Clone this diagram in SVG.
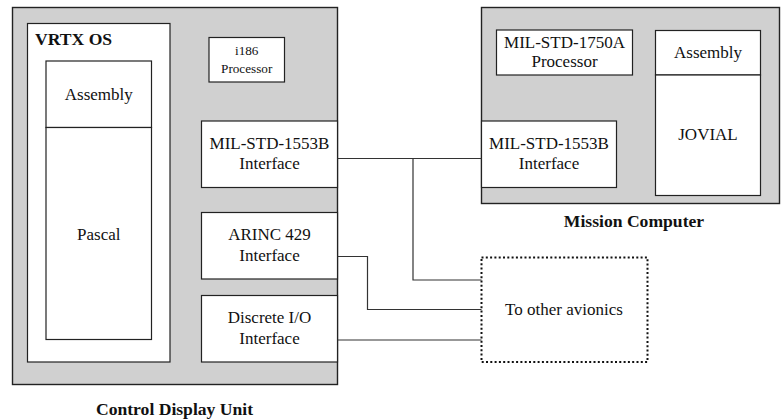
<svg xmlns="http://www.w3.org/2000/svg" width="781" height="419" viewBox="0 0 781 419">
<style>
.unit{fill:#d0d0d0;stroke:#222;stroke-width:1.4}
.box{fill:#fff;stroke:#222;stroke-width:1.2}
.t{font-family:"Liberation Serif","Times New Roman",serif;font-size:17px;fill:#111;text-anchor:middle}
.s{font-size:13.2px}
.b{font-weight:bold;font-size:17.6px}
.w{stroke:#333;stroke-width:1.2;fill:none}
</style>
<rect width="781" height="419" fill="#fff"/>
<g id="cdu">
<rect class="unit" x="12.5" y="7.5" width="325" height="377"/>
<text class="t b" x="174.5" y="415">Control Display Unit</text>
</g>
<g id="vrtx">
<rect class="box" x="27.5" y="23.5" width="142.5" height="338.5"/>
<text class="t b" x="35" y="45" style="text-anchor:start">VRTX OS</text>
</g>
<g id="cdu-assembly">
<rect class="box" x="46" y="61" width="105.5" height="66.5"/>
<text class="t" x="98.8" y="99.5">Assembly</text>
</g>
<g id="pascal">
<rect class="box" x="46" y="127.5" width="105.5" height="212"/>
<text class="t" x="98.8" y="240">Pascal</text>
</g>
<g id="i186">
<rect class="box" x="209" y="37.5" width="75.5" height="44.5"/>
<text class="t s" x="246.7" y="55">i186</text>
<text class="t s" x="246.7" y="73">Processor</text>
</g>
<g id="cdu-1553">
<rect class="box" x="201.5" y="121" width="136" height="66.5"/>
<text class="t" x="269.5" y="148.5">MIL-STD-1553B</text>
<text class="t" x="269.5" y="168.5">Interface</text>
</g>
<g id="arinc">
<rect class="box" x="201.5" y="212.5" width="136" height="66.5"/>
<text class="t" x="269.5" y="239.5">ARINC 429</text>
<text class="t" x="269.5" y="261">Interface</text>
</g>
<g id="discrete">
<rect class="box" x="201.5" y="295.5" width="136" height="66.5"/>
<text class="t" x="269.5" y="323">Discrete I/O</text>
<text class="t" x="269.5" y="344">Interface</text>
</g>
<g id="mc">
<rect class="unit" x="481.5" y="7.5" width="298" height="196"/>
<text class="t b" x="634" y="226.5">Mission Computer</text>
</g>
<g id="mil1750">
<rect class="box" x="496.5" y="30" width="136" height="45"/>
<text class="t" x="564.5" y="47.5">MIL-STD-1750A</text>
<text class="t" x="564.5" y="67">Processor</text>
</g>
<g id="mc-assembly">
<rect class="box" x="655.5" y="30.5" width="105" height="44.5"/>
<text class="t" x="708" y="57.5">Assembly</text>
</g>
<g id="jovial">
<rect class="box" x="655.5" y="75" width="105" height="120.5"/>
<text class="t" x="708" y="140">JOVIAL</text>
</g>
<g id="mc-1553">
<rect class="box" x="481.5" y="121" width="135" height="66.5"/>
<text class="t" x="549" y="148.5">MIL-STD-1553B</text>
<text class="t" x="549" y="168.5">Interface</text>
</g>
<g id="avionics">
<rect x="481.5" y="257.5" width="166" height="104.5" fill="#fff" stroke="#111" stroke-width="2" stroke-dasharray="2 2.3"/>
<text class="t" x="564" y="315">To other avionics</text>
</g>
<g id="connectors">
<path class="w" d="M337.5 158.5H481.5"/>
<path class="w" d="M413 158.5V280H481.5"/>
<path class="w" d="M337.5 256.5H367.5V309.5H481.5"/>
<path class="w" d="M337.5 340H481.5"/>
</g>
</svg>
